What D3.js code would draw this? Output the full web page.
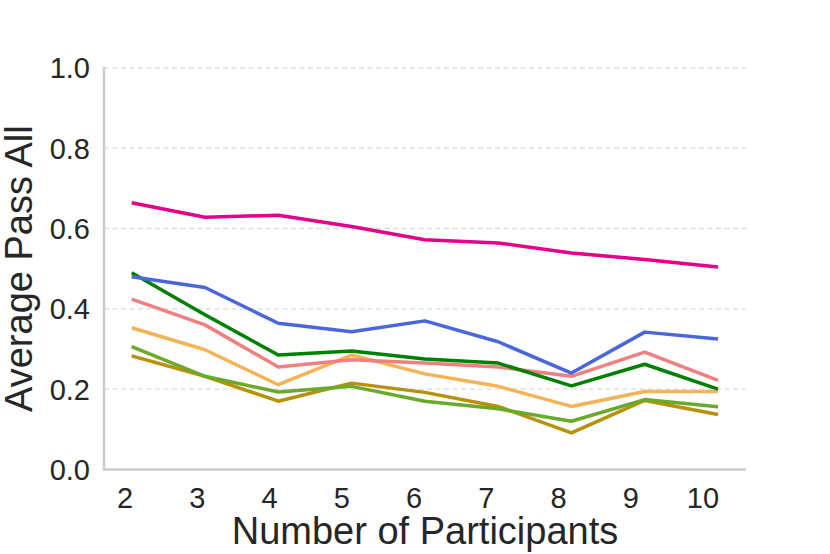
<!DOCTYPE html>
<html>
<head>
<script src="https://d3js.org/d3.v7.min.js"></script>
<style>
  body { margin: 0; background: #fff; }
  svg { display: block; font-family: "Liberation Sans", Arial, sans-serif; }
</style>
</head>
<body>
<div id="chart"></div>
<script>
// Number of participants
const participants = [2, 3, 4, 5, 6, 7, 8, 9, 10];
const yTicks = [0.0, 0.2, 0.4, 0.6, 0.8, 1.0];

// Average pass-all per series
const magentaSeries = [0.664, 0.628, 0.633, 0.605, 0.572, 0.564, 0.539, 0.523, 0.504];
const blueSeries    = [0.480, 0.453, 0.364, 0.343, 0.370, 0.318, 0.240, 0.342, 0.325];
const greenSeries   = [0.490, 0.385, 0.285, 0.295, 0.275, 0.265, 0.208, 0.262, 0.200];
const pinkSeries    = [0.424, 0.360, 0.255, 0.273, 0.265, 0.255, 0.232, 0.292, 0.222];
const orangeSeries  = [0.353, 0.298, 0.211, 0.285, 0.238, 0.207, 0.157, 0.194, 0.194];
const limeSeries    = [0.306, 0.232, 0.193, 0.207, 0.170, 0.151, 0.120, 0.174, 0.156];
const goldSeries    = [0.283, 0.232, 0.170, 0.215, 0.192, 0.157, 0.091, 0.172, 0.137];

const series = [
  { values: goldSeries,    color: "#b8900a" },
  { values: limeSeries,    color: "#6aaa2a" },
  { values: orangeSeries,  color: "#f4b455" },
  { values: pinkSeries,    color: "#f07f80" },
  { values: greenSeries,   color: "#008000" },
  { values: blueSeries,    color: "#4a66dc" },
  { values: magentaSeries, color: "#e5008a" }
];

const W = 830, H = 554;
const plotLeft = 104, plotRight = 746, plotTop = 67.8, plotBottom = 469.5;

const svg = d3.select("#chart").append("svg")
  .attr("width", W)
  .attr("height", H);

const x = d3.scaleLinear().domain([2, 10]).range([131.7, 718]);
const xLabel = d3.scaleLinear().domain([2, 10]).range([125, 703]);
const y = d3.scaleLinear().domain([0, 1]).range([plotBottom, plotTop]);

// grid lines
svg.append("g")
  .selectAll("line")
  .data(yTicks.filter(d => d > 0))
  .join("line")
  .attr("x1", plotLeft).attr("x2", plotRight)
  .attr("y1", d => y(d)).attr("y2", d => y(d))
  .attr("stroke", "#dcdcdc")
  .attr("stroke-width", 1.3)
  .attr("stroke-dasharray", "5,3.5");

// spines
svg.append("line")
  .attr("x1", plotLeft).attr("x2", plotLeft)
  .attr("y1", plotTop - 1).attr("y2", plotBottom)
  .attr("stroke", "#cccccc").attr("stroke-width", 2.5);
svg.append("line")
  .attr("x1", plotLeft - 1.25).attr("x2", plotRight)
  .attr("y1", plotBottom).attr("y2", plotBottom)
  .attr("stroke", "#cccccc").attr("stroke-width", 2.5);

// y tick labels
svg.append("g")
  .selectAll("text")
  .data(yTicks)
  .join("text")
  .attr("x", 90)
  .attr("y", d => y(d))
  .attr("dy", "0.36em")
  .attr("text-anchor", "end")
  .attr("font-size", 29)
  .attr("fill", "#262626")
  .text(d => d.toFixed(1));

// x tick labels
svg.append("g")
  .selectAll("text")
  .data(participants)
  .join("text")
  .attr("x", d => xLabel(d))
  .attr("y", 508)
  .attr("text-anchor", "middle")
  .attr("font-size", 29)
  .attr("fill", "#262626")
  .text(d => d);

// axis titles
svg.append("text")
  .attr("x", 425)
  .attr("y", 544)
  .attr("text-anchor", "middle")
  .attr("font-size", 38)
  .attr("fill", "#262626")
  .text("Number of Participants");

svg.append("text")
  .attr("transform", "translate(32," + ((plotTop + plotBottom) / 2) + ") rotate(-90)")
  .attr("text-anchor", "middle")
  .attr("font-size", 38)
  .attr("fill", "#262626")
  .text("Average Pass All");

// lines
const line = d3.line()
  .x((d, i) => x(participants[i]))
  .y(d => y(d));

svg.append("g")
  .selectAll("path")
  .data(series)
  .join("path")
  .attr("d", d => line(d.values))
  .attr("fill", "none")
  .attr("stroke", d => d.color)
  .attr("stroke-width", 3.5)
  .attr("stroke-linejoin", "round");
</script>
</body>
</html>
